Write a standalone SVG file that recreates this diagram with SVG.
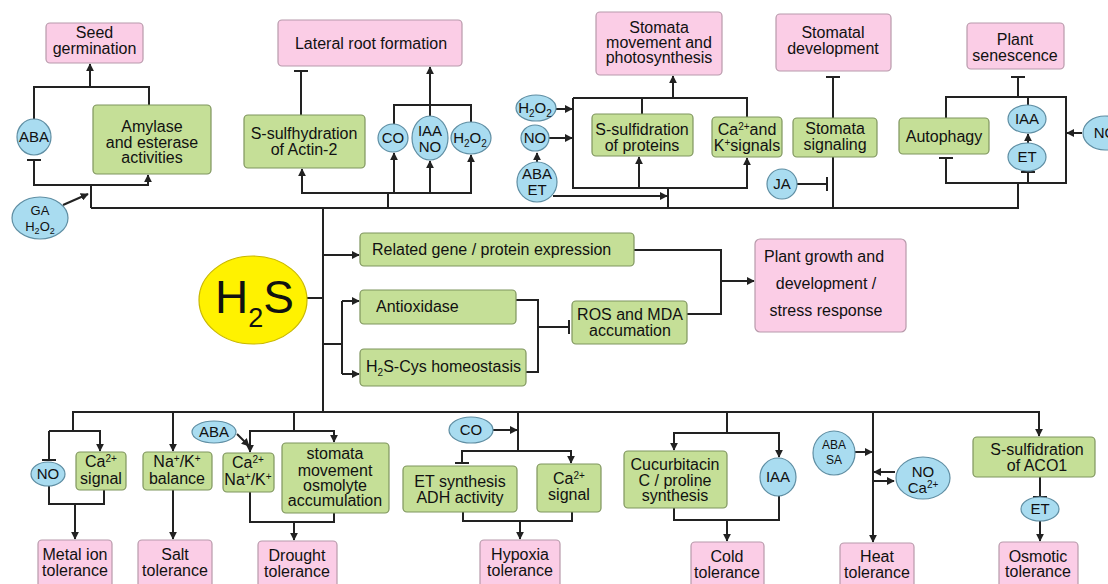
<svg xmlns="http://www.w3.org/2000/svg" width="1108" height="584" viewBox="0 0 1108 584">
<defs>
<marker id="arr" viewBox="0 0 10 10" refX="9" refY="5" markerWidth="8" markerHeight="8" markerUnits="userSpaceOnUse" orient="auto"><path d="M0,0 L10,5 L0,10 z" fill="#222"/></marker>
<marker id="tee" viewBox="0 0 2 14" refX="1" refY="7" markerWidth="2.5" markerHeight="14" markerUnits="userSpaceOnUse" orient="auto"><rect x="0" y="0" width="2" height="14" fill="#222"/></marker>
</defs>
<style>
.pk{fill:#fbcde6;stroke:#b89aab;stroke-width:1.2}
.gr{fill:#c5df97;stroke:#7f955e;stroke-width:1.2}
.bl{fill:#a9dcf0;stroke:#5f8ea3;stroke-width:1.2}
text{font-family:"Liberation Sans",Arial,sans-serif;font-size:16px;fill:#111;text-anchor:middle}
.l{text-anchor:start}
.e{font-size:15px}
.s{font-size:13px}
.xs{font-size:12px}
.c path{fill:none;stroke:#222;stroke-width:2}
.a{marker-end:url(#arr)}
.t{marker-end:url(#tee)}
</style>
<rect width="1108" height="584" fill="#fff"/>

<g class="c" id="connectors">
<path d="M91,208 H1018 V183"/>
<path d="M34,119 V87 H149 V105"/>
<path class="a" d="M90,87 V64"/>
<path class="t" d="M91,208 V185 H34 V160"/>
<path class="a" d="M91,185 H148 V175"/>
<path class="a" d="M63,205 L88,194"/>
<path d="M388,208 V193"/>
<path class="a" d="M388,193 H302 V169"/>
<path class="a" d="M388,193 H471 V155"/>
<path class="a" d="M394,193 V153"/>
<path class="a" d="M430,193 V161"/>
<path class="t" d="M301,115 V71"/>
<path d="M394,124 V105 H471 V122"/>
<path class="a" d="M430,116 V67"/>
<path d="M668,208 V188"/>
<path d="M573,98 H747 V117"/>
<path class="a" d="M573,98 V188 H747 V158"/>
<path class="a" d="M639,188 V157"/>
<path d="M642,114 V98"/>
<path class="a" d="M673,98 V76"/>
<path class="a" d="M556,109 H572"/>
<path class="a" d="M549,138 H572"/>
<path class="a" d="M537,162 V153"/>
<path class="a" d="M553,196 H667"/>
<path d="M833,208 V157"/>
<path class="t" d="M833,118 V77"/>
<path class="t" d="M797,184 H827"/>
<path class="t" d="M946,118 V97 H1066 V183 H946 V158"/>
<path class="t" d="M1018,97 V77"/>
<path d="M1028,97 V105"/>
<path class="a" d="M1028,143 V134"/>
<path class="t" d="M1028,183 V172"/>
<path class="a" d="M1082,133 H1067"/>
<path d="M307,298 H323"/>
<path d="M323,208 V412"/>
<path class="a" d="M323,255 H359"/>
<path d="M323,344 H342 M342,301 V374"/>
<path class="a" d="M342,301 H359"/>
<path class="a" d="M342,374 H359"/>
<path d="M516,300 H538 V372 H526"/>
<path class="t" d="M538,327 H569"/>
<path d="M634,250 H721 V314 H687"/>
<path class="a" d="M721,281 H754"/>
<path class="a" d="M73,431 V412 H1039 V436"/>
<path class="a" d="M49,431 H100 V451"/>
<path class="t" d="M49,431 V460"/>
<path d="M49,486 V504 H104 V490"/>
<path class="a" d="M75,504 V539"/>
<path class="a" d="M173,412 V451"/>
<path class="a" d="M173,490 V539"/>
<path d="M294,412 V431"/>
<path class="a" d="M294,431 H250 V452"/>
<path class="a" d="M294,431 H334 V442"/>
<path class="a" d="M237,434 L249,446"/>
<path d="M250,492 V522 H334 V513"/>
<path class="a" d="M294,522 V540"/>
<path d="M518,412 V451"/>
<path class="t" d="M518,451 H462 V463"/>
<path class="a" d="M518,451 H571 V463"/>
<path class="a" d="M493,430 H517"/>
<path d="M463,512 V521 H572 V512"/>
<path class="a" d="M520,521 V539"/>
<path d="M727,412 V433"/>
<path class="a" d="M727,433 H674 V450"/>
<path class="a" d="M727,433 H779 V457"/>
<path d="M674,508 V520 H779 V496"/>
<path class="a" d="M727,520 V541"/>
<path class="a" d="M873,412 V542"/>
<path class="a" d="M855,452 H872"/>
<path class="a" d="M895,472 H874"/>
<path class="a" d="M873,481 H894"/>
<path class="t" d="M1040,477 V497"/>
<path class="a" d="M1040,521 V541"/>
</g>

<g id="h2s"><ellipse cx="253" cy="300" rx="54" ry="44" fill="#fff200" stroke="#c9b800" stroke-width="1.2"/><text class="l" x="215" y="313" style="font-size:46px">H<tspan style="font-size:27px" dy="14">2</tspan><tspan dy="-14">S</tspan></text></g>

<g id="seed"><rect class="pk" x="46" y="23" width="97" height="40" rx="4"/><text x="94.5" y="38">Seed</text><text x="94.5" y="54">germination</text></g>
<g id="lateral"><rect class="pk" x="278" y="20" width="184" height="46" rx="4"/><text x="371" y="49">Lateral root formation</text></g>
<g id="stomata-move"><rect class="pk" x="596" y="12" width="126" height="63" rx="4"/><text x="659" y="33">Stomata</text><text x="659" y="48">movement and</text><text x="659" y="63">photosynthesis</text></g>
<g id="stomatal-dev"><rect class="pk" x="776" y="14" width="115" height="57" rx="4"/><text x="833" y="38">Stomatal</text><text x="833" y="54">development</text></g>
<g id="senescence"><rect class="pk" x="967" y="23" width="97" height="46" rx="4"/><text x="1015" y="45">Plant</text><text x="1015" y="61">senescence</text></g>
<g id="growth"><rect class="pk" x="755" y="239" width="151" height="93" rx="5"/><text x="824" y="262">Plant growth and</text><text x="826" y="289">development /</text><text x="826" y="316">stress response</text></g>
<g id="metal"><rect class="pk" x="38" y="540" width="74" height="52" rx="4"/><text x="75" y="560">Metal ion</text><text x="75" y="576">tolerance</text></g>
<g id="salt"><rect class="pk" x="138" y="540" width="74" height="52" rx="4"/><text x="175" y="560">Salt</text><text x="175" y="576">tolerance</text></g>
<g id="drought"><rect class="pk" x="258" y="541" width="79" height="52" rx="4"/><text x="297" y="561">Drought</text><text x="297" y="577">tolerance</text></g>
<g id="hypoxia"><rect class="pk" x="480" y="540" width="80" height="52" rx="4"/><text x="520" y="560">Hypoxia</text><text x="520" y="576">tolerance</text></g>
<g id="cold"><rect class="pk" x="691" y="542" width="73" height="52" rx="4"/><text x="727" y="562">Cold</text><text x="727" y="578">tolerance</text></g>
<g id="heat"><rect class="pk" x="840" y="543" width="74" height="52" rx="4"/><text x="877" y="562">Heat</text><text x="877" y="578">tolerance</text></g>
<g id="osmotic"><rect class="pk" x="999" y="542" width="79" height="52" rx="4" stroke="#8a6f7d"/><text x="1038" y="562">Osmotic</text><text x="1038" y="577">tolerance</text></g>

<g id="amylase"><rect class="gr" x="93" y="105" width="118" height="69" rx="4"/><text x="152" y="132">Amylase</text><text x="152" y="148">and esterase</text><text x="152" y="163">activities</text></g>
<g id="actin"><rect class="gr" x="244" y="115" width="121" height="53" rx="4"/><text x="304" y="139">S-sulfhydration</text><text x="304" y="155">of Actin-2</text></g>
<g id="sprot"><rect class="gr" x="592" y="114" width="101" height="42" rx="4"/><text x="642" y="135">S-sulfidration</text><text x="642" y="151">of proteins</text></g>
<g id="cak"><rect class="gr" x="712" y="117" width="70" height="40" rx="4"/><text x="747" y="135">Ca<tspan style="font-size:10px" dy="-5">2+</tspan><tspan dy="5">and</tspan></text><text x="747" y="151">K<tspan style="font-size:10px" dy="-5">+</tspan><tspan dy="5">signals</tspan></text></g>
<g id="stsig"><rect class="gr" x="793" y="118" width="84" height="39" rx="4"/><text x="835" y="134">Stomata</text><text x="835" y="150">signaling</text></g>
<g id="autophagy"><rect class="gr" x="899" y="118" width="90" height="36" rx="4"/><text x="944" y="142">Autophagy</text></g>
<g id="gene"><rect class="gr" x="360" y="233" width="274" height="33" rx="4"/><text class="l" x="372" y="255">Related gene / protein expression</text></g>
<g id="antiox"><rect class="gr" x="360" y="290" width="156" height="34" rx="4"/><text class="l" x="376" y="312">Antioxidase</text></g>
<g id="cys"><rect class="gr" x="360" y="349" width="166" height="37" rx="4"/><text class="l" x="366" y="372">H<tspan style="font-size:10px" dy="4">2</tspan><tspan dy="-4">S-Cys homeostasis</tspan></text></g>
<g id="ros"><rect class="gr" x="572" y="301" width="115" height="43" rx="4"/><text x="630" y="320">ROS and MDA</text><text x="630" y="336">accumation</text></g>
<g id="ca-metal"><rect class="gr" x="76" y="452" width="50" height="38" rx="4"/><text x="101" y="467">Ca<tspan style="font-size:10px" dy="-5">2+</tspan></text><text x="101" y="484">signal</text></g>
<g id="nak"><rect class="gr" x="143" y="452" width="69" height="38" rx="4"/><text x="177" y="467">Na<tspan style="font-size:10px" dy="-5">+</tspan><tspan dy="5">/K</tspan><tspan style="font-size:10px" dy="-5">+</tspan></text><text x="177" y="484">balance</text></g>
<g id="canak"><rect class="gr" x="223" y="453" width="51" height="39" rx="4"/><text x="248" y="468">Ca<tspan style="font-size:10px" dy="-5">2+</tspan></text><text x="248" y="485">Na<tspan style="font-size:10px" dy="-5">+</tspan><tspan dy="5">/K</tspan><tspan style="font-size:10px" dy="-5">+</tspan></text></g>
<g id="osmolyte"><rect class="gr" x="282" y="443" width="107" height="70" rx="4"/><text x="335" y="459">stomata</text><text x="335" y="476">movement</text><text x="335" y="491">osmolyte</text><text x="335" y="506">accumulation</text></g>
<g id="etsyn"><rect class="gr" x="403" y="466" width="114" height="46" rx="4"/><text x="460" y="487">ET synthesis</text><text x="460" y="503">ADH activity</text></g>
<g id="ca-hyp"><rect class="gr" x="537" y="464" width="64" height="48" rx="4"/><text x="569" y="484">Ca<tspan style="font-size:10px" dy="-5">2+</tspan></text><text x="569" y="500">signal</text></g>
<g id="cucurb"><rect class="gr" x="624" y="451" width="103" height="57" rx="4"/><text x="675" y="470">Cucurbitacin</text><text x="675" y="486">C / proline</text><text x="675" y="501">synthesis</text></g>
<g id="aco1"><rect class="gr" x="973" y="437" width="122" height="40" rx="4"/><text x="1037" y="455">S-sulfidration</text><text x="1037" y="471">of ACO1</text></g>

<g id="aba1"><ellipse class="bl" cx="34" cy="137" rx="17" ry="18"/><text class="e" x="34" y="142">ABA</text></g>
<g id="gah2o2"><ellipse class="bl" cx="40" cy="218" rx="28" ry="21"/><text class="s" x="40" y="215">GA</text><text class="s" x="40" y="231">H<tspan style="font-size:9px" dy="3">2</tspan><tspan dy="-3">O</tspan><tspan style="font-size:9px" dy="3">2</tspan></text></g>
<g id="co1"><ellipse class="bl" cx="393" cy="138" rx="15" ry="14"/><text class="e" x="393" y="143">CO</text></g>
<g id="iaano"><ellipse class="bl" cx="430" cy="138" rx="18" ry="22"/><text class="e" x="430" y="136">IAA</text><text class="e" x="430" y="152">NO</text></g>
<g id="h2o2a"><ellipse class="bl" cx="471" cy="138" rx="20" ry="16"/><text class="e" x="470" y="143">H<tspan style="font-size:10px" dy="4">2</tspan><tspan dy="-4">O</tspan><tspan style="font-size:10px" dy="4">2</tspan></text></g>
<g id="h2o2b"><ellipse class="bl" cx="536" cy="108" rx="20" ry="13"/><text class="e" x="535" y="113">H<tspan style="font-size:10px" dy="4">2</tspan><tspan dy="-4">O</tspan><tspan style="font-size:10px" dy="4">2</tspan></text></g>
<g id="no1"><ellipse class="bl" cx="535" cy="138" rx="14" ry="13"/><text class="e" x="535" y="143">NO</text></g>
<g id="abaet"><ellipse class="bl" cx="537" cy="182" rx="20" ry="20"/><text class="e" x="537" y="179">ABA</text><text class="e" x="537" y="195">ET</text></g>
<g id="ja"><ellipse class="bl" cx="782" cy="184" rx="15" ry="15"/><text class="e" x="782" y="189">JA</text></g>
<g id="iaa1"><ellipse class="bl" cx="1027" cy="119" rx="19" ry="14"/><text class="e" x="1027" y="124">IAA</text></g>
<g id="et1"><ellipse class="bl" cx="1027" cy="157" rx="19" ry="14"/><text class="e" x="1027" y="162">ET</text></g>
<g id="no2"><ellipse class="bl" cx="1105" cy="133" rx="22" ry="17"/><text class="e" x="1105" y="138">NO</text></g>
<g id="no-metal"><ellipse class="bl" cx="48" cy="474" rx="17" ry="12"/><text class="e" x="48" y="479">NO</text></g>
<g id="aba-dr"><ellipse class="bl" cx="214" cy="432" rx="22" ry="11"/><text class="e" x="214" y="437">ABA</text></g>
<g id="co2"><ellipse class="bl" cx="471" cy="430" rx="22" ry="13"/><text class="e" x="471" y="435">CO</text></g>
<g id="iaa-cold"><ellipse class="bl" cx="778" cy="477" rx="18" ry="19"/><text class="e" x="778" y="482">IAA</text></g>
<g id="abasa"><ellipse class="bl" cx="834" cy="453" rx="21" ry="22"/><text class="xs" x="834" y="449">ABA</text><text class="xs" x="834" y="464">SA</text></g>
<g id="noca"><ellipse class="bl" cx="923" cy="478" rx="27" ry="21"/><text class="e" x="923" y="477">NO</text><text class="e" x="923" y="493">Ca<tspan style="font-size:10px" dy="-5">2+</tspan></text></g>
<g id="et-osm"><ellipse class="bl" cx="1040" cy="509" rx="19" ry="12"/><text class="e" x="1040" y="514">ET</text></g>
</svg>
